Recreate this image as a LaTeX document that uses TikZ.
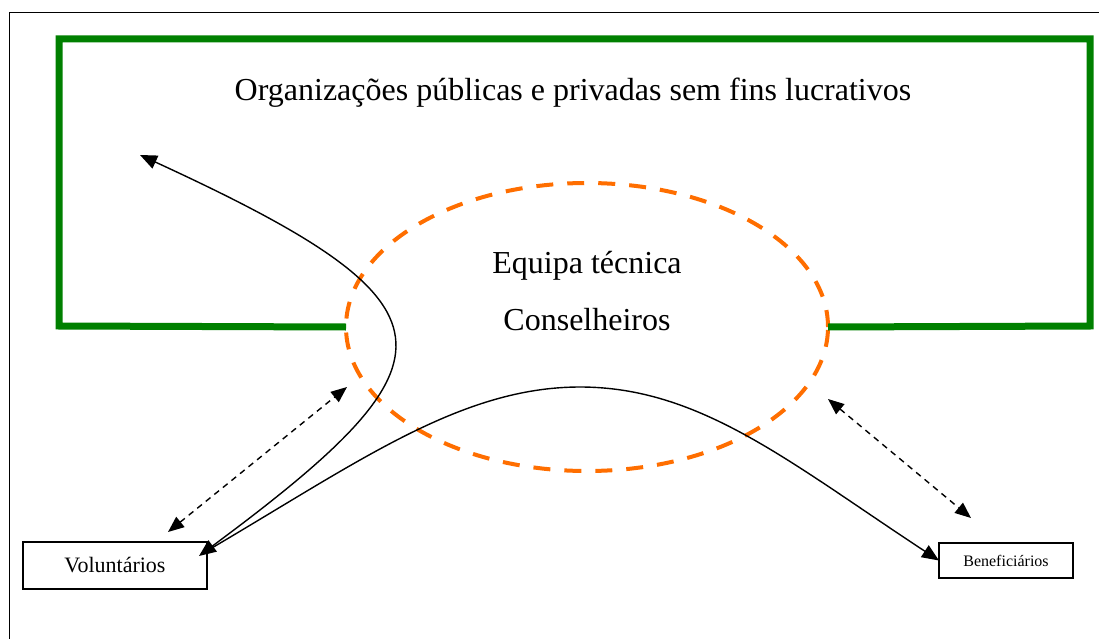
\documentclass[tikz,border=0pt]{standalone}
\usepackage{fontspec}
\setmainfont{Liberation Serif}
\usetikzlibrary{shapes.geometric,arrows.meta}
\definecolor{grn}{RGB}{0,128,0}
\definecolor{orng}{RGB}{255,110,0}
\begin{document}
\begin{tikzpicture}[x=1pt,y=-1pt,
  solidarrow/.style={line width=1.4pt},
  dasharrow/.style={line width=1.4pt, dash pattern=on 6pt off 5pt, {Triangle[length=16pt,width=13pt]}-{Triangle[length=16pt,width=13pt]}},
  boxnode/.style={draw, line width=1.4pt, rectangle, inner sep=0pt, outer sep=0pt},
  bigtext/.style={font=\fontsize{32}{34}\selectfont, inner sep=0pt}]
\useasboundingbox (0,0) rectangle (1099,639);
% outer frame (only top and left edges visible)
\draw[line width=1.5pt] (9.5,660) -- (9.5,12.5) -- (1120,12.5);
% ellipse
\node[ellipse, draw=orng, line width=4pt, dash pattern=on 17pt off 14pt,
      minimum width=482pt, minimum height=288pt, inner sep=0pt, outer sep=0pt] (team) at (587,327) {};
% green frame
\draw[grn, line width=7pt, line join=miter] (team.west) -- (59,326) -- (59,39) -- (1090,39) -- (1090,326) -- (team.east);
% texts
\node[bigtext] (orgs) at (573,93) {Organizações públicas e privadas sem fins lucrativos};
\node[bigtext] (eq) at (587,266) {Equipa técnica};
\node[bigtext] (cons) at (587,320) {Conselheiros};
% boxes
\node[boxnode, minimum width=184pt, minimum height=47pt, font=\fontsize{22}{24}\selectfont] (vol) at (115,565.5) {Voluntários};
\node[boxnode, minimum width=134pt, minimum height=35pt, font=\fontsize{16}{18}\selectfont] (bene) at (1006,560.5) {Beneficiários};
% free ends
\coordinate (orgtip) at (140,155);
\coordinate (volend) at (199,556);
\coordinate (volstart) at (205,552);
\coordinate (peak) at (580,387);
\coordinate (dA1) at (168,532);
\coordinate (dA2) at (347,387);
\coordinate (dB1) at (828,399);
\coordinate (dB2) at (971,518);
% solid curves
\draw[solidarrow, {Triangle[length=17pt,width=14pt]}-{Triangle[length=17pt,width=14pt]}] (orgtip) .. controls (466,305) and (466,358) .. (volend);
\draw[solidarrow, -{Triangle[length=17pt,width=14pt]}] (volstart) .. controls (357,463) and (460,387) .. (peak) .. controls (700,387) and (789,462) .. (bene.west);
% dashed double arrows
\draw[dasharrow] (dA1) -- (dA2);
\draw[dasharrow] (dB1) -- (dB2);
\end{tikzpicture}
\end{document}
